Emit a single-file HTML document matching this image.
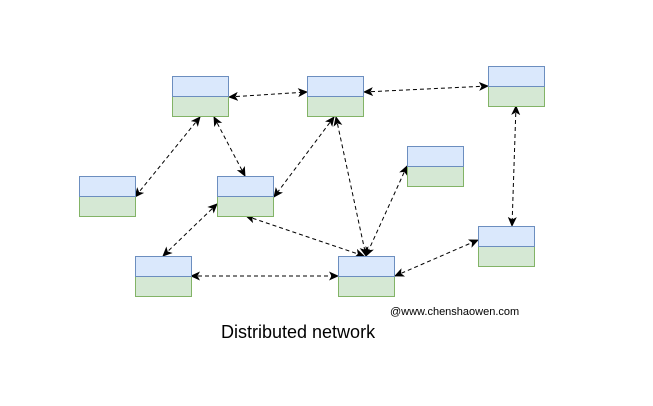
<!DOCTYPE html>
<html><head><style>body{margin:0;background:#fff}</style></head><body>
<svg width="653" height="401" xmlns="http://www.w3.org/2000/svg" font-family="Liberation Sans, sans-serif">
<defs><marker id="a" markerWidth="10" markerHeight="10" refX="9" refY="5" orient="auto-start-reverse" markerUnits="userSpaceOnUse"><path d="M0,0.5 L10,5 L0,9.5 L2.5,5 z" fill="#000"/></marker></defs>
<g fill="none" stroke="#000" stroke-width="1" stroke-dasharray="4,3" marker-start="url(#a)" marker-end="url(#a)">
<line x1="229" y1="97" x2="307" y2="92"/>
<line x1="364" y1="92" x2="488" y2="86"/>
<line x1="200" y1="117" x2="135" y2="197"/>
<line x1="214" y1="117" x2="245" y2="176"/>
<line x1="334" y1="117" x2="274" y2="197"/>
<line x1="336" y1="117" x2="366" y2="256"/>
<line x1="217" y1="204" x2="163" y2="256"/>
<line x1="246" y1="216" x2="364" y2="256"/>
<line x1="407" y1="166" x2="366" y2="256"/>
<line x1="191" y1="276" x2="338" y2="276"/>
<line x1="395" y1="276" x2="478" y2="240"/>
<line x1="516" y1="106" x2="512" y2="226"/>
</g>
<g stroke-width="1">
<g transform="translate(172,76)"><rect x="0.5" y="20.5" width="56" height="20" fill="#d5e8d4" stroke="#82b366"/><rect x="0.5" y="0.5" width="56" height="20" fill="#dae8fc" stroke="#6c8ebf"/></g>
<g transform="translate(307,76)"><rect x="0.5" y="20.5" width="56" height="20" fill="#d5e8d4" stroke="#82b366"/><rect x="0.5" y="0.5" width="56" height="20" fill="#dae8fc" stroke="#6c8ebf"/></g>
<g transform="translate(488,66)"><rect x="0.5" y="20.5" width="56" height="20" fill="#d5e8d4" stroke="#82b366"/><rect x="0.5" y="0.5" width="56" height="20" fill="#dae8fc" stroke="#6c8ebf"/></g>
<g transform="translate(79,176)"><rect x="0.5" y="20.5" width="56" height="20" fill="#d5e8d4" stroke="#82b366"/><rect x="0.5" y="0.5" width="56" height="20" fill="#dae8fc" stroke="#6c8ebf"/></g>
<g transform="translate(217,176)"><rect x="0.5" y="20.5" width="56" height="20" fill="#d5e8d4" stroke="#82b366"/><rect x="0.5" y="0.5" width="56" height="20" fill="#dae8fc" stroke="#6c8ebf"/></g>
<g transform="translate(407,146)"><rect x="0.5" y="20.5" width="56" height="20" fill="#d5e8d4" stroke="#82b366"/><rect x="0.5" y="0.5" width="56" height="20" fill="#dae8fc" stroke="#6c8ebf"/></g>
<g transform="translate(135,256)"><rect x="0.5" y="20.5" width="56" height="20" fill="#d5e8d4" stroke="#82b366"/><rect x="0.5" y="0.5" width="56" height="20" fill="#dae8fc" stroke="#6c8ebf"/></g>
<g transform="translate(338,256)"><rect x="0.5" y="20.5" width="56" height="20" fill="#d5e8d4" stroke="#82b366"/><rect x="0.5" y="0.5" width="56" height="20" fill="#dae8fc" stroke="#6c8ebf"/></g>
<g transform="translate(478,226)"><rect x="0.5" y="20.5" width="56" height="20" fill="#d5e8d4" stroke="#82b366"/><rect x="0.5" y="0.5" width="56" height="20" fill="#dae8fc" stroke="#6c8ebf"/></g>
</g>
<text x="390" y="315" font-size="11" fill="#000">@www.chenshaowen.com</text>
<text x="221" y="338" font-size="18" fill="#000">Distributed network</text>
</svg>
</body></html>
